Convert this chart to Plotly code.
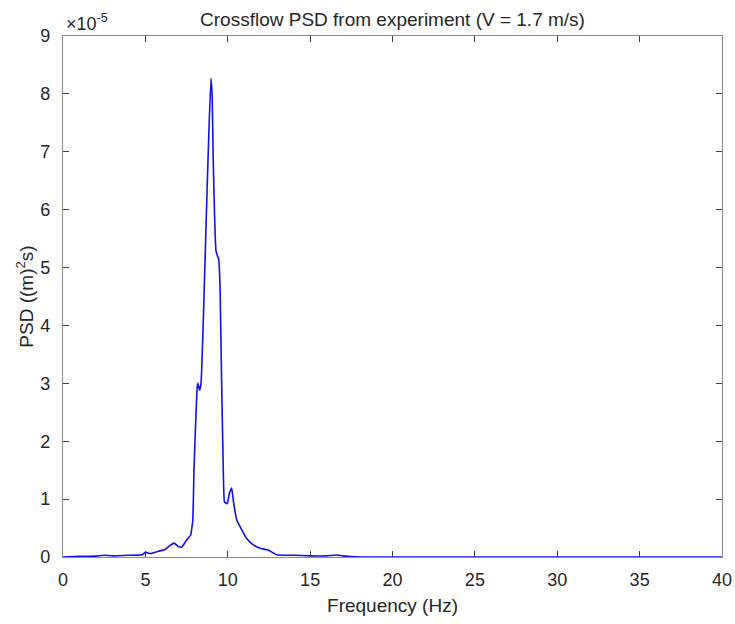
import plotly.graph_objects as go

# Frequency (Hz) and PSD values (in units of 1e-5 m^2 s)
freq = [0, 1, 2, 2.5, 3, 4, 4.8, 5.0, 5.3, 5.8, 6.2, 6.5, 6.75, 7.0, 7.2, 7.5,
        7.75, 7.88, 7.95, 8.05, 8.15, 8.19, 8.29, 8.38, 8.45, 8.55, 8.7, 8.85,
        8.98, 9.05, 9.12, 9.2, 9.28, 9.35, 9.45, 9.53, 9.63, 9.73, 9.8, 9.97,
        10.1, 10.24, 10.35, 10.55, 10.85, 11.15, 11.55, 11.95, 12.45, 12.95,
        14, 15, 16, 16.6, 17.0, 18, 40]
psd_e5 = [0.0, 0.01, 0.015, 0.03, 0.02, 0.03, 0.04, 0.08, 0.06, 0.1, 0.13, 0.2, 0.24, 0.18, 0.17, 0.29,
          0.38, 0.64, 1.5, 2.3, 2.95, 3.0, 2.88, 3.0, 3.5, 4.4, 5.9, 7.3,
          8.27, 8.0, 6.85, 5.9, 5.3, 5.22, 5.15, 4.7, 3.0, 1.5, 0.95, 0.92,
          1.1, 1.19, 0.95, 0.64, 0.47, 0.32, 0.21, 0.15, 0.12, 0.04,
          0.03, 0.02, 0.02, 0.035, 0.02, 0.0, 0.0]
scale = 1e-5

x_ticks = [0, 5, 10, 15, 20, 25, 30, 35, 40]
y_ticks = [0, 1, 2, 3, 4, 5, 6, 7, 8, 9]

title_text = "Crossflow PSD from experiment (V = 1.7 m/s)"
x_label = "Frequency (Hz)"
y_label = "PSD ((m)<sup>2</sup>s)"
exp_label = "×10<sup>-5</sup>"

psd = [v * scale for v in psd_e5]

fig = go.Figure()
fig.add_trace(go.Scatter(x=freq, y=psd, mode="lines",
                         line=dict(color="#1010f0", width=1.6, shape="spline", smoothing=0.3),
                         showlegend=False, hoverinfo="skip"))

font = "Liberation Sans, Arial, sans-serif"
txt = "#262626"
axis_common = dict(showline=True, linecolor="#8a8a8a", linewidth=1.2, mirror="ticks",
                   ticks="inside", ticklen=6, tickcolor="#404040", showgrid=False,
                   zeroline=False, automargin=False,
                   tickfont=dict(family=font, size=18, color=txt))

fig.update_layout(
    width=735, height=624,
    margin=dict(l=63, r=13, t=36, b=67),
    paper_bgcolor="white", plot_bgcolor="white",
    font=dict(family=font, color=txt),
    title=dict(text=title_text, x=(63 + 722) / 2 / 735, xanchor="center",
               y=1 - 19 / 624, yanchor="middle", automargin=False,
               font=dict(size=19, family=font, color=txt)),
    xaxis=dict(range=[0, 40], tickvals=x_ticks, ticktext=[str(t) for t in x_ticks],
               title=dict(text=x_label, font=dict(size=19), standoff=9),
               ticklabelstandoff=6, **axis_common),
    yaxis=dict(range=[0, 9 * scale], tickvals=[t * scale for t in y_ticks],
               ticktext=[str(t) for t in y_ticks],
               title=dict(text=y_label, font=dict(size=19), standoff=1),
               ticklabelstandoff=8, **axis_common),
    annotations=[dict(text=exp_label, xref="paper", yref="paper", x=0, y=1,
                      xanchor="left", yanchor="bottom", showarrow=False, xshift=1, yshift=0,
                      font=dict(size=18, family=font, color=txt))],
)

fig.write_html("out.html")
